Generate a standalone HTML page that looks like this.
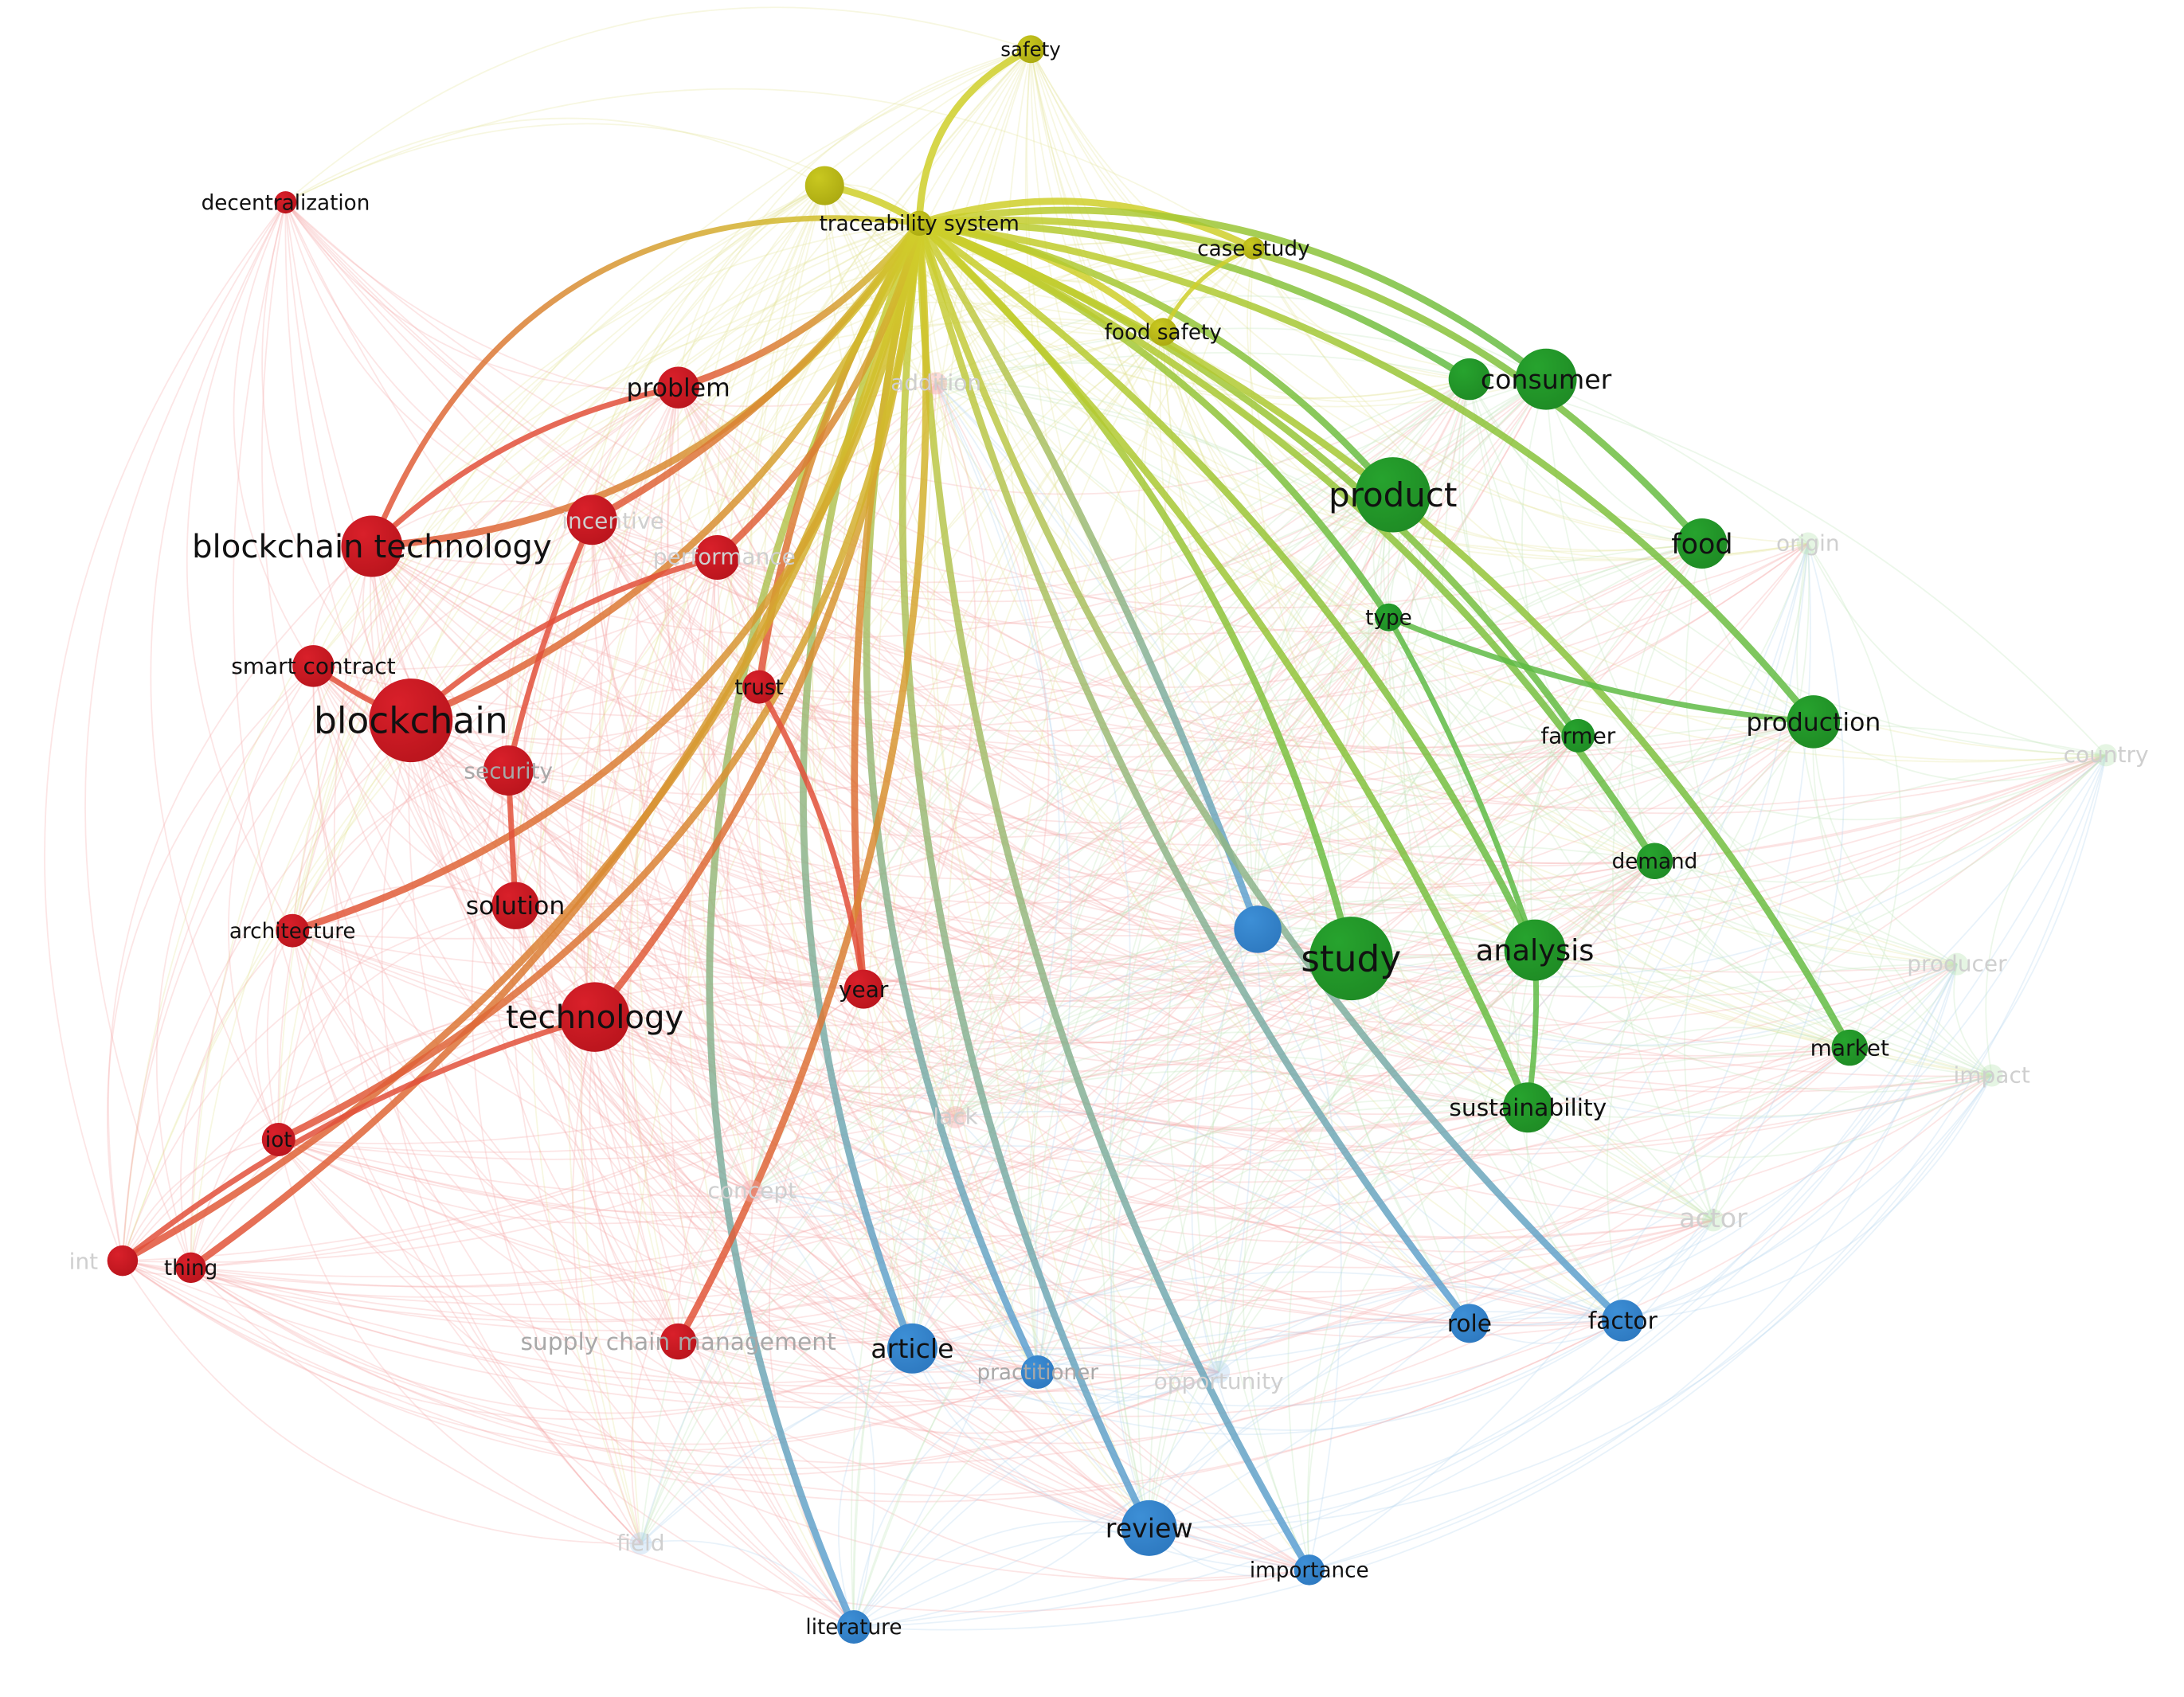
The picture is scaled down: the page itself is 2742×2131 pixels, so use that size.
<!DOCTYPE html>
<html><head><meta charset="utf-8"><style>
html,body{margin:0;padding:0;background:#fff;width:2742px;height:2131px;overflow:hidden}
svg{display:block}
text{font-family:"DejaVu Sans","Liberation Sans",sans-serif}
</style></head><body>
<svg id="s" width="2742" height="2131" viewBox="0 0 1568 1218" xmlns="http://www.w3.org/2000/svg">
<g id="faint"></g><g id="thick"></g><g id="nodes"></g><g id="labels"></g>
</svg>
<script>
var NS="http://www.w3.org/2000/svg";
var C={r:"#d9202a",g:"#27a32e",b:"#3d8fd6",y:"#c9c820"};
var F={r:"#f4a8a8",g:"#bfe6b8",b:"#b4d4f0",y:"#e4e49a"};
var N={
hub:[660,160,9,"y","traceability system",15,0],
ts:[592,133,14,"y","",0,0],
safety:[740,35,10,"y","safety",14,0],
cs:[900,178,8,"y","case study",15,0],
fs:[835,238,10,"y","food safety",15,0],
dec:[205,145,8,"r","decentralization",15,0],
prob:[487,278,15,"r","problem",18,0],
n1:[425,373,18,"r","",0,0],
n2:[515,400,16,"r","",0,0],
bt:[267,392,22,"r","blockchain technology",23,0],
sc:[225,478,15,"r","smart contract",16,0],
bc:[295,517,30,"r","blockchain",26,0],
sec:[365,553,18,"r","security",16,1],
trust:[545,493,12,"r","trust",15,0],
sol:[370,650,17,"r","solution",18,0],
arch:[210,668,12,"r","architecture",15,0],
tech:[427,730,25,"r","technology",23,0],
year:[620,710,14,"r","year",16,0],
iot:[200,818,12,"r","iot",15,0],
int:[88,905,11,"r","",0,0],
thing:[137,910,11,"r","thing",15,0],
scm:[487,963,13,"r","supply chain management",17,1],
con2:[1055,272,15,"g","",0,0],
con:[1110,272,22,"g","consumer",19,0],
prod:[1000,355,27,"g","product",24,0],
food:[1222,390,18,"g","food",20,0],
type:[997,443,10,"g","type",15,0],
farm:[1133,528,12,"g","farmer",16,0],
prodn:[1302,518,19,"g","production",18,0],
dem:[1188,618,13,"g","demand",15,0],
study:[970,688,30,"g","study",26,0],
anal:[1102,682,22,"g","analysis",21,0],
mkt:[1328,752,13,"g","market",16,0],
sus:[1097,795,18,"g","sustainability",17,0],
bl:[903,667,17,"b","",0,0],
art:[655,968,18,"b","article",19,0],
prac:[745,985,12,"b","practitioner",15,1],
role:[1055,950,14,"b","role",17,0],
fact:[1165,948,15,"b","factor",17,0],
rev:[825,1097,20,"b","review",19,0],
imp:[940,1127,11,"b","importance",15,0],
lit:[613,1168,12,"b","literature",15,0]
};
var faintLab=[["addition",672,275,"r"],["performance",520,400,"r"],["incentive",440,374,"r"],["origin",1298,390,"g"],["country",1512,542,"g"],["producer",1405,692,"g"],["impact",1430,772,"g"],["actor",1230,876,"g"],["lack",686,802,"r"],["concept",540,855,"r"],["opportunity",875,992,"b"],["field",460,1108,"b"],["int",60,906,"r"]];
var faintNodes=[[1298,390,"g"],[1512,542,"g"],[1405,692,"g"],[1430,772,"g"],[1230,876,"g"],[686,802,"r"],[540,855,"r"],[875,985,"b"],[460,1108,"b"],[672,275,"r"]];
function el(t,a,p){var e=document.createElementNS(NS,t);for(var k in a)e.setAttribute(k,a[k]);(typeof p=="string"?document.getElementById(p):p).appendChild(e);return e}
function curve(x1,y1,x2,y2,k){var mx=(x1+x2)/2,my=(y1+y2)/2,dx=x2-x1,dy=y2-y1;return "M"+x1+","+y1+" Q"+(mx-dy*k)+","+(my+dx*k)+" "+x2+","+y2}
var all=[];for(var n in N)all.push([N[n][0],N[n][1],N[n][3]]);all=all.concat(faintNodes);
var seed=7;function rnd(){seed=(seed*9301+49297)%233280;return seed/233280}
for(var i=0;i<all.length;i++)for(var j=i+1;j<all.length;j++){if(rnd()<0.5){var a=all[i],b=all[j];el("path",{d:curve(a[0],a[1],b[0],b[1],0.28),stroke:F[a[2]],"stroke-width":1,fill:"none",opacity:0.3},"faint")}}
var gid=0;
function mix(c){return {r:"#e2503a",g:"#5fbb45",b:"#5a9fd6",y:"#cfcf2a"}[c]}
function thick(a,b,k,w){var A=N[a],B=N[b];gid++;var g=el("linearGradient",{id:"g"+gid,gradientUnits:"userSpaceOnUse",x1:A[0],y1:A[1],x2:B[0],y2:B[1]},"thick");
el("stop",{offset:"0","stop-color":mix(A[3])},g);el("stop",{offset:"1","stop-color":mix(B[3])},g);
el("path",{d:curve(A[0],A[1],B[0],B[1],k),stroke:"url(#g"+gid+")","stroke-width":w,fill:"none","stroke-linecap":"round",opacity:0.85},"thick")}
var hubT=[["safety",-0.3],["cs",-0.2],["fs",-0.15],["con",-0.22],["con2",-0.15],["food",-0.25],["prod",-0.18],["type",-0.15],["prodn",-0.2],["farm",-0.15],["dem",-0.15],["mkt",-0.18],["study",-0.15],["anal",-0.13],["sus",-0.1],["bl",-0.05],["role",0.1],["fact",0.12],["imp",0.13],["rev",0.15],["prac",0.18],["art",0.2],["lit",0.25],["year",0.08],["trust",0.1],["scm",-0.15],["tech",-0.15],["thing",-0.18],["int",-0.22],["iot",-0.28],["arch",-0.3],["bt",-0.25],["prob",-0.15],["n1",-0.12],["n2",-0.15],["ts",0.1],["bc",-0.2]];
hubT.forEach(function(e){thick("hub",e[0],e[1],5)});
thick("bt","hub",-0.38,4);
thick("prob","bt",0.15,4);thick("n1","sec",0.05,4);thick("sec","sol",0,4);thick("bc","n2",-0.12,4);
thick("int","tech",-0.1,4);thick("trust","year",-0.1,4);thick("sc","bc",0.05,4);
thick("anal","sus",-0.05,4);thick("type","anal",-0.05,4);thick("type","prodn",0.08,4);thick("cs","fs",0.2,3);
for(var n in N){var d=N[n];var gr=el("radialGradient",{id:"rg"+n,cx:"0.35",cy:"0.3",r:"0.8"},"nodes");
el("stop",{offset:"0","stop-color":C[d[3]]},gr);
el("stop",{offset:"1","stop-color":{r:"#b8141c",g:"#1e8a24",b:"#2d78bf",y:"#aaa810"}[d[3]]},gr);
el("circle",{cx:d[0],cy:d[1],r:d[2],fill:"url(#rg"+n+")"},"nodes")}
faintNodes.forEach(function(f){el("circle",{cx:f[0],cy:f[1],r:8,fill:F[f[2]],opacity:0.4},"nodes")});
for(var n in N){var d=N[n];if(!d[4])continue;var t=el("text",{x:d[0],y:d[1]+d[5]*0.35,"font-size":d[5],"text-anchor":"middle",fill:d[6]?"#a8a8a8":"#111"},"labels");t.textContent=d[4]}
faintLab.forEach(function(f){var t=el("text",{x:f[1],y:f[2]+5,"font-size":f[0]=="actor"?19:16,"text-anchor":"middle",fill:"#cfcfcf"},"labels");t.textContent=f[0]});
</script>
</body></html>
